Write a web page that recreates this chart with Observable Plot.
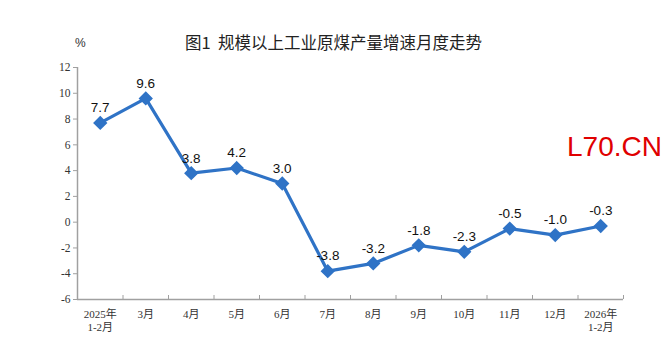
<!DOCTYPE html>
<html>
<head>
<meta charset="utf-8">
<script src="https://cdn.jsdelivr.net/npm/d3@7"></script>
<script src="https://cdn.jsdelivr.net/npm/@observablehq/plot@0.6"></script>
<style>
  html, body { margin: 0; padding: 0; background: #fff; }
  #wrap { position: relative; width: 665px; height: 360px; overflow: hidden; }
  #title { position: absolute; left: 185px; top: 31px; white-space: nowrap;
           font-family: "Noto Sans CJK SC", sans-serif; font-size: 16.5px; color: #222; line-height: 22px; }
  #unit { position: absolute; left: 75px; top: 36px; font-family: "Liberation Sans", sans-serif; font-size: 12px; color: #333; }
  #mark { position: absolute; left: 567px; top: 131px; font-family: "Liberation Sans", Arial, sans-serif; font-size: 28px; color: #e00000; }
  #chart { position: absolute; left: 0; top: 0; }
</style>
</head>
<body>
<div id="wrap">
  <div id="chart"></div>
  <div id="title">图1&nbsp;&nbsp;规模以上工业原煤产量增速月度走势</div>
  <div id="unit">%</div>
  <div id="mark">L70.CN</div>
</div>
<script>
const months = ["2025年\n1-2月", "3月", "4月", "5月", "6月", "7月", "8月", "9月", "10月", "11月", "12月", "2026年\n1-2月"];
const growth = [7.7, 9.6, 3.8, 4.2, 3.0, -3.8, -3.2, -1.8, -2.3, -0.5, -1.0, -0.3];
const yTicks = [-6, -4, -2, 0, 2, 4, 6, 8, 10, 12];

const data = months.map((m, i) => ({i, m, v: growth[i]}));
const bounds = d3.range(months.length + 1).map(k => k - 0.5);
const blue = "#2f73c6";
const axisGray = "#a0a0a0";

const chart = Plot.plot({
  width: 665,
  height: 360,
  marginLeft: 77,
  marginRight: 42,
  marginTop: 67,
  marginBottom: 61,
  style: {background: "transparent", overflow: "visible"},
  x: {type: "linear", domain: [-0.5, months.length - 0.5]},
  y: {domain: [-6, 12]},
  marks: [
    Plot.ruleX([-0.5], {stroke: axisGray, strokeWidth: 1.5}),
    Plot.ruleY([-6], {stroke: axisGray, strokeWidth: 1.5}),
    Plot.axisY({ticks: yTicks, tickSize: 4, tickPadding: 3, stroke: axisGray, label: null,
      fontFamily: "Liberation Serif, serif", fontSize: 11.5, fill: "#333",
      tickFormat: d => String(d)}),
    Plot.axisX({ticks: bounds, tickSize: -4, stroke: axisGray, label: null, tickFormat: () => ""}),
    Plot.axisX({ticks: d3.range(months.length), tickSize: 0, tickPadding: 9, label: null,
      fontFamily: "Liberation Serif, Noto Sans CJK SC, serif", fontSize: 11, fill: "#333",
      tickFormat: i => months[i], lineHeight: 1.2}),
    Plot.line(data, {x: "i", y: "v", stroke: blue, strokeWidth: 3.2}),
    Plot.dot(data, {x: "i", y: "v", symbol: "diamond2", r: 5.5, fill: blue, stroke: blue}),
    Plot.text(data, {x: "i", y: "v", text: d => d.v.toFixed(1), dy: -15,
      fontFamily: "Liberation Sans, Arial, sans-serif", fontSize: 13.5, fill: "#111"})
  ]
});
document.getElementById("chart").appendChild(chart);
</script>
</body>
</html>
